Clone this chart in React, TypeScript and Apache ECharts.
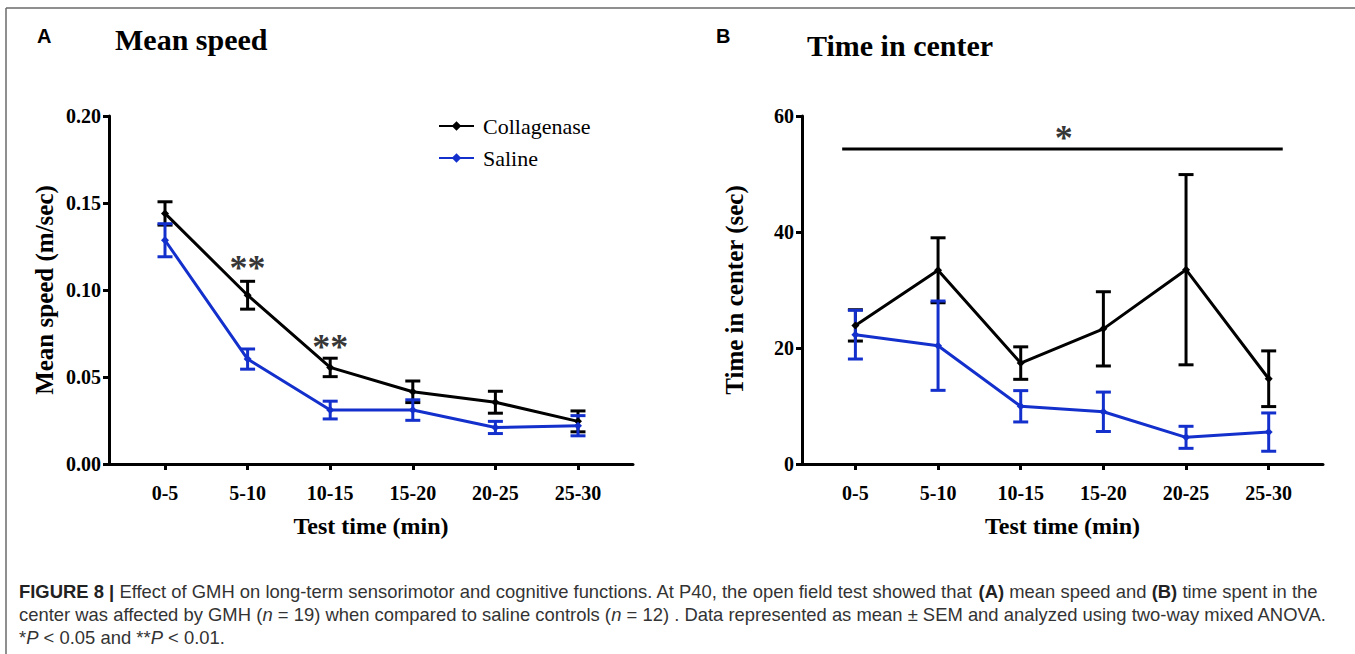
import React, { useEffect, useRef } from "react";
import * as echarts from "echarts";

const categories = ["0-5", "5-10", "10-15", "15-20", "20-25", "25-30"];
const catIndex = [0, 1, 2, 3, 4, 5];

// Panel A: mean speed (m/sec), mean ± SEM
const speedCollMean = [0.144, 0.097, 0.0555, 0.0415, 0.0355, 0.0245];
const speedCollSem = [0.0067, 0.008, 0.0053, 0.0062, 0.0063, 0.006];
const speedSalMean = [0.1286, 0.0603, 0.031, 0.031, 0.021, 0.022];
const speedSalSem = [0.0095, 0.0058, 0.0051, 0.0059, 0.0035, 0.0058];

// Panel B: time in center (sec), mean ± SEM
const centerCollMean = [23.9, 33.4, 17.4, 23.3, 33.5, 14.7];
const centerCollSem = [2.7, 5.6, 2.8, 6.4, 16.4, 4.8];
const centerSalMean = [22.3, 20.4, 9.95, 9.0, 4.6, 5.5];
const centerSalSem = [4.2, 7.7, 2.7, 3.4, 1.9, 3.3];

// significance marks
const starsAPos = [[1, 0.1124], [2, 0.0675]];
const starsAText = ["**", "**"];
const sigLineB = [[-0.16, 54.3], [5.17, 54.3]];
const starBPos = [[2.52, 56.2]];

const speedTicks = [0, 0.05, 0.1, 0.15, 0.2];
const centerTicks = [0, 20, 40, 60];

const BLACK = "#000000";
const BLUE = "#1430cc";
const SERIF = '"Liberation Serif", "Times New Roman", serif';
const SANS = '"Liberation Sans", Arial, sans-serif';

function measure(font: string, text: string): number {
  const c = document.createElement("canvas").getContext("2d");
  if (!c) return text.length * 8;
  c.font = font;
  return c.measureText(text).width;
}

export default function App() {
  const ref = useRef<HTMLDivElement>(null);
  useEffect(() => {
    if (!ref.current) return;
    const chart = echarts.init(ref.current, null, { renderer: "svg" });

    const errSeries = (name: string, xi: number, means: number[], sems: number[], color: string) => ({
      type: "custom",
      name,
      xAxisIndex: xi,
      yAxisIndex: xi,
      encode: { x: 0, y: 1 },
      data: means.map((m, i) => [catIndex[i], m, sems[i]]),
      renderItem: (_p: any, api: any) => {
        const x = api.value(0);
        const m = api.value(1);
        const s = api.value(2);
        const top = api.coord([x, m + s]);
        const bot = api.coord([x, m - s]);
        const hw = 7.5;
        const st = { stroke: color, lineWidth: 3 };
        return {
          type: "group",
          children: [
            { type: "line", shape: { x1: top[0], y1: top[1], x2: bot[0], y2: bot[1] }, style: st },
            { type: "line", shape: { x1: top[0] - hw, y1: top[1], x2: top[0] + hw, y2: top[1] }, style: st },
            { type: "line", shape: { x1: bot[0] - hw, y1: bot[1], x2: bot[0] + hw, y2: bot[1] }, style: st },
          ],
        };
      },
    });

    const lineSeries = (name: string, xi: number, means: number[], color: string) => ({
      type: "line",
      name,
      xAxisIndex: xi,
      yAxisIndex: xi,
      data: means.map((m, i) => [catIndex[i], m]),
      symbol: "diamond",
      symbolSize: 8,
      showSymbol: true,
      lineStyle: { color, width: 3 },
      itemStyle: { color },
    });

    const tickFont = { fontFamily: SERIF, fontWeight: "bold", fontSize: 20, color: BLACK };
    const nameFont = { fontFamily: SERIF, fontWeight: "bold", fontSize: 24, color: BLACK };
    const axisLine = { show: true, onZero: false, lineStyle: { color: BLACK, width: 3 } };
    const axisTick = { show: true, length: 6, lineStyle: { color: BLACK, width: 3 } };

    const mkX = (min: number, max: number) => ({
      type: "value",
      min,
      max,
      name: "Test time (min)",
      nameLocation: "middle",
      nameGap: 50,
      nameTextStyle: nameFont,
      axisLine,
      axisTick: { ...axisTick, customValues: catIndex },
      axisLabel: {
        ...tickFont,
        margin: 19,
        customValues: catIndex,
        formatter: (v: number) => categories[Math.round(v)] ?? "",
      },
      splitLine: { show: false },
    });

    // caption
    const capSize = 19;
    const capFont = (w: string, s: string) => `${s} ${w} ${capSize}px "Liberation Sans"`;
    const line1Parts: [string, string, string][] = [
      ["FIGURE 8 |", "bold", "normal"],
      [" Effect of GMH on long-term sensorimotor and cognitive functions. At P40, the open field test showed that ", "normal", "normal"],
      ["(A)", "bold", "normal"],
      [" mean speed and ", "normal", "normal"],
      ["(B)", "bold", "normal"],
      [" time spent in the", "normal", "normal"],
    ];
    let w1 = 0;
    line1Parts.forEach(([t, w, s]) => (w1 += measure(capFont(w, s), t)));
    const capScale = w1 > 0 ? 1298 / w1 : 0.85;
    const capRich = {
      b: { fontWeight: "bold", fontFamily: SANS, fontSize: capSize, fill: "#222" },
      i: { fontStyle: "italic", fontFamily: SANS, fontSize: capSize, fill: "#333" },
    };
    const capText = (y: number, text: string) => ({
      type: "text",
      x: 19,
      y,
      scaleX: capScale,
      style: {
        text,
        fontFamily: SANS,
        fontSize: capSize,
        fill: "#333",
        textAlign: "left",
        textVerticalAlign: "middle",
        rich: capRich,
      },
    });

    chart.setOption({
      animation: false,
      backgroundColor: "#ffffff",
      legend: {
        data: ["Collagenase", "Saline"],
        orient: "vertical",
        left: 433,
        top: 110,
        itemWidth: 35,
        itemHeight: 12,
        itemGap: 10,
        selectedMode: false,
        textStyle: { fontFamily: SERIF, fontSize: 22, color: BLACK, padding: [0, 0, 0, 4] },
      },
      grid: [
        { left: 109, top: 116, width: 524, height: 348 },
        { left: 802, top: 116, width: 521, height: 348 },
      ],
      xAxis: [
        { ...mkX(-0.678, 5.666), gridIndex: 0 },
        { ...mkX(-0.646, 5.657), gridIndex: 1 },
      ],
      yAxis: [
        {
          type: "value",
          gridIndex: 0,
          min: speedTicks[0],
          max: speedTicks[speedTicks.length - 1],
          interval: 0.05,
          name: "Mean speed (m/sec)",
          nameLocation: "middle",
          nameGap: 52,
          nameTextStyle: { ...nameFont, fontSize: 25 },
          axisLine,
          axisTick,
          axisLabel: { ...tickFont, margin: 8, formatter: (v: number) => v.toFixed(2) },
          splitLine: { show: false },
        },
        {
          type: "value",
          gridIndex: 1,
          min: centerTicks[0],
          max: centerTicks[centerTicks.length - 1],
          interval: 20,
          name: "Time in center (sec)",
          nameLocation: "middle",
          nameGap: 55,
          nameTextStyle: { ...nameFont, fontSize: 25 },
          axisLine,
          axisTick,
          axisLabel: { ...tickFont, margin: 8 },
          splitLine: { show: false },
        },
      ],
      series: [
        errSeries("errCollA", 0, speedCollMean, speedCollSem, BLACK),
        lineSeries("Collagenase", 0, speedCollMean, BLACK),
        errSeries("errSalA", 0, speedSalMean, speedSalSem, BLUE),
        lineSeries("Saline", 0, speedSalMean, BLUE),
        errSeries("errCollB", 1, centerCollMean, centerCollSem, BLACK),
        lineSeries("Collagenase", 1, centerCollMean, BLACK),
        errSeries("errSalB", 1, centerSalMean, centerSalSem, BLUE),
        lineSeries("Saline", 1, centerSalMean, BLUE),
        {
          type: "scatter",
          name: "starsA",
          xAxisIndex: 0,
          yAxisIndex: 0,
          symbolSize: 0,
          data: starsAPos.map((p, i) => ({ value: p, label: { formatter: starsAText[i] } })),
          label: {
            show: true,
            position: "inside",
            fontFamily: SERIF,
            fontWeight: "bold",
            fontSize: 36,
            color: BLACK,
            verticalAlign: "middle",
            align: "center",
          },
        },
        {
          type: "line",
          name: "sigB",
          xAxisIndex: 1,
          yAxisIndex: 1,
          data: sigLineB,
          symbol: "none",
          lineStyle: { color: BLACK, width: 3 },
        },
        {
          type: "scatter",
          name: "starB",
          xAxisIndex: 1,
          yAxisIndex: 1,
          symbolSize: 0,
          data: starBPos,
          label: {
            show: true,
            position: "inside",
            formatter: "*",
            fontFamily: SERIF,
            fontWeight: "bold",
            fontSize: 36,
            color: BLACK,
            verticalAlign: "middle",
            align: "center",
          },
        },
      ],
      graphic: [
        { type: "line", shape: { x1: 6, y1: 8, x2: 1355, y2: 8 }, style: { stroke: "#6a6a6a", lineWidth: 1.5 } },
        { type: "line", shape: { x1: 6, y1: 8, x2: 6, y2: 654 }, style: { stroke: "#6a6a6a", lineWidth: 1.5 } },
        {
          type: "text", x: 37, y: 36,
          style: { text: "A", fontFamily: SANS, fontWeight: "bold", fontSize: 20, fill: BLACK, textVerticalAlign: "middle" },
        },
        {
          type: "text", x: 115, y: 39,
          style: { text: "Mean speed", fontFamily: SERIF, fontWeight: "bold", fontSize: 30, fill: BLACK, textVerticalAlign: "middle" },
        },
        {
          type: "text", x: 716, y: 36,
          style: { text: "B", fontFamily: SANS, fontWeight: "bold", fontSize: 20, fill: BLACK, textVerticalAlign: "middle" },
        },
        {
          type: "text", x: 807, y: 45,
          style: { text: "Time in center", fontFamily: SERIF, fontWeight: "bold", fontSize: 30, fill: BLACK, textVerticalAlign: "middle" },
        },
        capText(591, "{b|FIGURE 8 |} Effect of GMH on long-term sensorimotor and cognitive functions. At P40, the open field test showed that {b|(A)} mean speed and {b|(B)} time spent in the"),
        capText(614, "center was affected by GMH ({i|n} = 19) when compared to saline controls ({i|n} = 12) . Data represented as mean ± SEM and analyzed using two-way mixed ANOVA."),
        capText(637, "*{i|P} < 0.05 and **{i|P} < 0.01."),
      ],
    });
    return () => chart.dispose();
  }, []);
  return (
    <div
      ref={ref}
      style={{ position: "fixed", left: 0, top: 0, width: 1355, height: 654, background: "#ffffff" }}
    />
  );
}
